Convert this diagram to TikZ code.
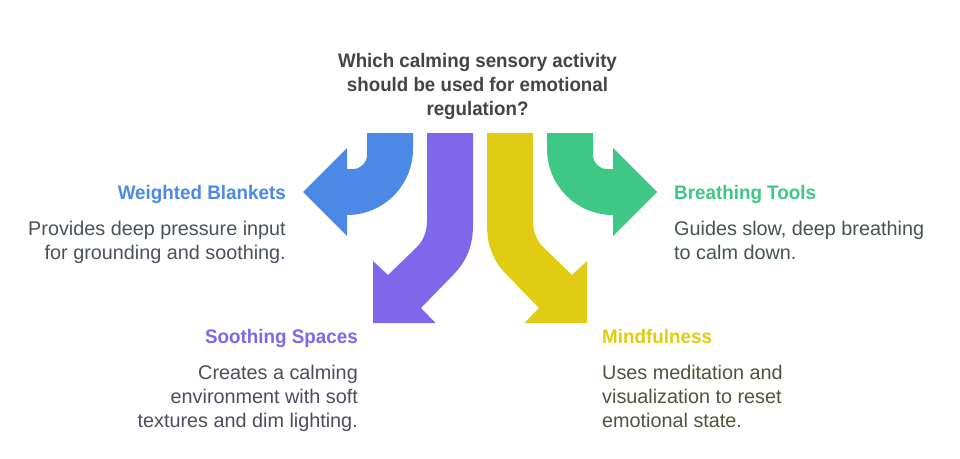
\documentclass[tikz,border=0pt]{standalone}
\usepackage{fontspec}
\setmainfont{Liberation Sans}
\newfontface\headface{Liberation Sans Bold}[FakeStretch=0.96]
\definecolor{cblue}{HTML}{4C89E6}
\definecolor{cpurple}{HTML}{8066EA}
\definecolor{cyellow}{HTML}{E0CC12}
\definecolor{cgreen}{HTML}{3EC785}
\definecolor{ctitle}{HTML}{444444}
\definecolor{dblue}{HTML}{4A525C}
\definecolor{dpurple}{HTML}{4E4C61}
\definecolor{dyellow}{HTML}{53513F}
\definecolor{dgreen}{HTML}{46544F}
\tikzset{
  title/.style={font=\headface\fontsize{19.5}{24}\selectfont, text=ctitle, align=center, inner sep=0pt},
  head/.style={font=\headface\fontsize{19.6}{24}\selectfont, inner sep=0pt},
  desc/.style={font=\fontsize{19.8}{24}\selectfont, inner sep=0pt},
}
\begin{document}
\begin{tikzpicture}[x=1pt,y=-1pt]
\useasboundingbox (0,0) rectangle (960,458);
\fill[white] (0,0) rectangle (960,458);
\fill[cblue] (367,133) -- (413,133) -- (413,149) arc[start angle=0,end angle=90,radius=66] -- (347,236) -- (303,192) -- (347,148) -- (347,169) -- (353,169) arc[start angle=90,end angle=0,radius=14] -- cycle;
\fill[cgreen] (593,133) -- (547,133) -- (547,149) arc[start angle=180,end angle=90,radius=66] -- (613,236) -- (657,192) -- (613,148) -- (613,169) -- (607,169) arc[start angle=90,end angle=180,radius=14] -- cycle;
\fill[cpurple] (427,133) -- (473,133) -- (473,225) .. controls (473,248) and (465,263) .. (453,275) -- (421,308) -- (435.5,323) -- (373,323) -- (373,261) -- (388,275) -- (417,247) .. controls (423,241) and (427,232) .. (427,220) -- cycle;
\fill[cyellow] (533,133) -- (487,133) -- (487,225) .. controls (487,248) and (495,263) .. (507,275) -- (539,308) -- (524.5,323) -- (587,323) -- (587,261) -- (572,275) -- (543,247) .. controls (537,241) and (533,232) .. (533,220) -- cycle;
\node[title] (q) at (477.5,86) {Which calming sensory activity\\should be used for emotional\\regulation?};
\node[head,text=cblue,anchor=base east] (h1) at (286,199) {Weighted Blankets};
\node[desc,text=dblue,anchor=north east,align=right] (d1) at (286,220.6) {Provides deep pressure input\\for grounding and soothing.};
\node[head,text=cpurple,anchor=base east] (h2) at (358,343) {Soothing Spaces};
\node[desc,text=dpurple,anchor=north east,align=right] (d2) at (358,364.6) {Creates a calming\\environment with soft\\textures and dim lighting.};
\node[head,text=cyellow,anchor=base west] (h3) at (602,343) {Mindfulness};
\node[desc,text=dyellow,anchor=north west,align=left] (d3) at (602,364.6) {Uses meditation and\\visualization to reset\\emotional state.};
\node[head,text=cgreen,anchor=base west] (h4) at (674,199) {Breathing Tools};
\node[desc,text=dgreen,anchor=north west,align=left] (d4) at (674,220.6) {Guides slow, deep breathing\\to calm down.};
\end{tikzpicture}
\end{document}
